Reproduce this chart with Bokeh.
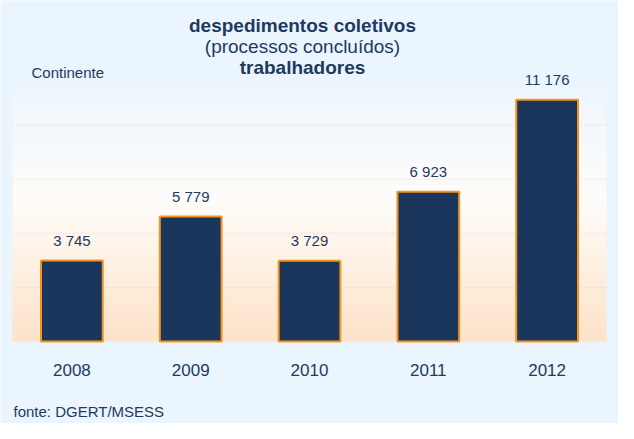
import numpy as np
from bokeh.plotting import figure
from bokeh.models import Range1d
from bokeh.embed import file_html
from bokeh.resources import INLINE
from bokeh.core.properties import value

# ---- data ----
years = ["2008", "2009", "2010", "2011", "2012"]
workers = [3745, 5779, 3729, 6923, 11176]
labels = [f"{v:,}".replace(",", " ") for v in workers]
grid_values = [2500, 5000, 7500, 10000]

title_lines = ["despedimentos coletivos", "(processos concluídos)", "trabalhadores"]
region = "Continente"
source_note = "fonte: DGERT/MSESS"

# ---- styles / layout ----
FONT = "Liberation Sans"
TXT = "#1F3A60"
BAR = "#1B365D"
EDGE = "#F7941D"
OUTER = "#EAF5FD"
W, H = 618, 423
Y_TOP = 11830            # value at the top of the plot area
PX_PER_CAT = 118.8       # horizontal pixels per category
PX_PER_VAL = 0.02164     # vertical pixels per unit
ORIGIN_X = 71.4          # figure px of first category centre
ORIGIN_Y = 341           # figure px (from top) of value 0

x0 = -ORIGIN_X / PX_PER_CAT
y0 = -(H - ORIGIN_Y) / PX_PER_VAL
def X(page_x):
    return x0 + (page_x - 8) / PX_PER_CAT
def Y(page_y):
    return (ORIGIN_Y - (page_y - 8)) / PX_PER_VAL

p = figure(width=W, height=H,
           x_range=Range1d(x0, x0 + W / PX_PER_CAT),
           y_range=Range1d(y0, y0 + H / PX_PER_VAL),
           output_backend="svg", toolbar_location=None,
           min_border=0)
p.border_fill_color = OUTER
p.background_fill_color = OUTER
p.outline_line_color = None
p.axis.visible = False
p.grid.visible = False

xs = list(range(len(years)))
n_cat = len(years)

# gradient background of plot area (peach bottom -> white -> light blue top)
n = 256
t = np.linspace(0, 1, n)
stops_t = [0.0, 0.55, 1.0]
stops_c = [(253, 227, 201), (255, 253, 250), (238, 246, 254)]
img = np.empty((n, 1), dtype=np.uint32)
view = img.view(dtype=np.uint8).reshape((n, 1, 4))
for k in range(3):
    view[:, 0, k] = np.interp(t, stops_t, [c[k] for c in stops_c]).astype(np.uint8)
view[:, 0, 3] = 255
p.image_rgba(image=[img], x=-0.5, y=0, dw=n_cat, dh=Y_TOP)

# faint dashed gridlines inside plot area
p.segment(x0=[-0.5] * len(grid_values), x1=[n_cat - 0.5] * len(grid_values),
          y0=grid_values, y1=grid_values, line_color="#F6DCC4", line_dash="2 2",
          line_width=1)

# bars
p.vbar(x=xs, top=workers, width=0.52, fill_color=BAR, line_color=EDGE, line_width=2)
p.text(x=xs, y=workers, text=labels, y_offset=-20,
       text_align="center", text_baseline="middle", text_color=TXT,
       text_font=value(FONT), text_font_size="15px")

# category labels
p.text(x=xs, y=[Y(377)] * n_cat, text=years, text_align="center",
       text_baseline="middle", text_color=TXT, text_font=value(FONT),
       text_font_size="17px")

# titles
styles = ["bold", "normal", "bold"]
ys = [33, 54, 75]
for line, st, yy in zip(title_lines, styles, ys):
    p.text(x=[X(310)], y=[Y(yy)], text=[line], text_align="center",
           text_baseline="middle", text_font=value(FONT), text_font_size="19px",
           text_font_style=st, text_color=TXT)
p.text(x=[X(39)], y=[Y(80)], text=[region], text_align="left",
       text_baseline="middle", text_font=value(FONT), text_font_size="15px",
       text_color=TXT)
p.text(x=[X(21)], y=[Y(419)], text=[source_note], text_align="left",
       text_baseline="middle", text_font=value(FONT), text_font_size="15px",
       text_color=TXT)

open("out.html", "w").write(file_html(p, INLINE))
